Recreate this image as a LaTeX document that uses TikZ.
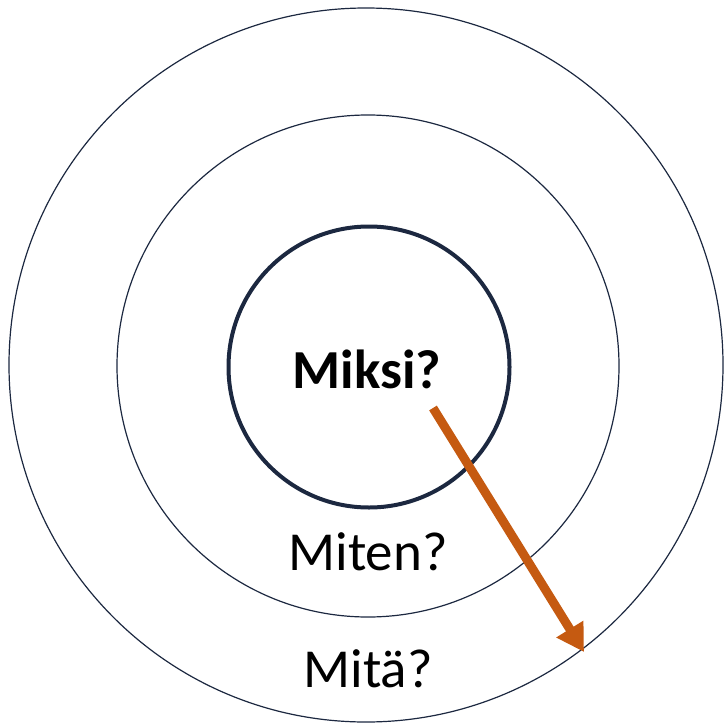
\documentclass[tikz,border=0pt]{standalone}
\usepackage{fontspec}
\setmainfont{Carlito}
\usetikzlibrary{arrows.meta, positioning}

\definecolor{ringblue}{HTML}{1C2840}
\definecolor{arroworange}{HTML}{C55A11}

\begin{document}
\begin{tikzpicture}[
    x=1pt, y=-1pt, % pixel-like units, y going down
    ring/.style={draw=ringblue, circle, inner sep=0pt, line width=1.2pt}, % Style for the rings
    core/.style={ring, line width=4pt}, % Style for the inner ring
    label/.style={font=\fontsize{55}{64}\selectfont, inner sep=0pt} % Style for the questions
]

    % Fix the picture size
    \useasboundingbox (0,0) rectangle (723,725);

    % Rings, all (nearly) at the same centre
    \node[ring, minimum size=714pt] (outer) at (366,365) {};
    \node[ring, minimum size=502pt] (middle) at (368,366) {};
    \node[core, minimum size=281pt] (inner) at (369,367) {};

    % Questions
    \node[label, font=\fontsize{55}{64}\selectfont\bfseries] (miksi) at (367,369) {Miksi?};
    \node[label] (miten) at (368,552) {Miten?};
    \node[label] (mita) at (368,669) {Mitä?};

    % Arrow from the centre out to the outer ring
    \coordinate (arrow_start) at (433,408);
    \coordinate (arrow_end) at (584,652);
    \draw[-{Triangle[width=30pt,length=27pt]}, line width=9pt, arroworange] (arrow_start) -- (arrow_end);

\end{tikzpicture}
\end{document}
